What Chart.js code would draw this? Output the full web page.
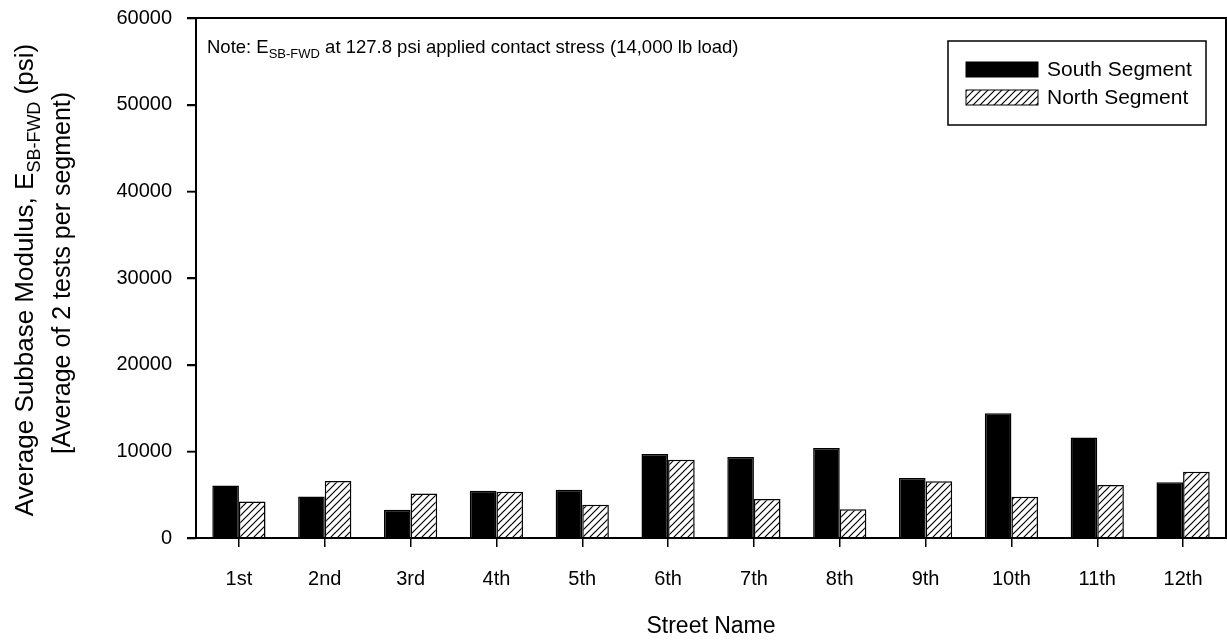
<!DOCTYPE html>
<html>
<head>
<meta charset="utf-8">
<script src="https://cdn.jsdelivr.net/npm/chart.js@4.4.1/dist/chart.umd.min.js"></script>
<style>
  html, body { margin: 0; padding: 0; background: #ffffff; }
  #wrap { width: 1227px; height: 641px; position: relative; }
</style>
</head>
<body>
<div id="wrap"><canvas id="chart" width="1227" height="641"></canvas></div>
<script>
// Street categories and segment averages (psi)
const streets = ['1st', '2nd', '3rd', '4th', '5th', '6th', '7th', '8th', '9th', '10th', '11th', '12th'];
const southSegment = [6070, 4790, 3270, 5450, 5560, 9690, 9340, 10390, 6930, 14400, 11600, 6420];
const northSegment = [4200, 6580, 5140, 5330, 3850, 9030, 4510, 3310, 6540, 4750, 6110, 7630];
const yTickValues = [0, 10000, 20000, 30000, 40000, 50000, 60000];

const FONT = '"Liberation Sans", Arial, Helvetica, sans-serif';

// Diagonal hatch fill for the north segment bars
function makeHatch() {
  const s = 7;
  const c = document.createElement('canvas');
  c.width = s; c.height = s;
  const g = c.getContext('2d');
  g.fillStyle = '#ffffff';
  g.fillRect(0, 0, s, s);
  g.strokeStyle = '#000000';
  g.lineWidth = 1.2;
  g.beginPath();
  g.moveTo(-1, s + 1); g.lineTo(s + 1, -1);
  g.moveTo(-1, 1); g.lineTo(1, -1);
  g.moveTo(s - 1, s + 1); g.lineTo(s + 1, s - 1);
  g.stroke();
  return g.createPattern(c, 'repeat');
}
const ctx = document.getElementById('chart').getContext('2d');
const hatch = makeHatch();

// Streets are placed at positions 1..12 on a numeric axis
const southPoints = southSegment.map((v, i) => ({ x: i + 1, y: v }));
const northPoints = northSegment.map((v, i) => ({ x: i + 1, y: v }));

// Text with a subscript run: [main, sub, rest]
function drawSubText(g, x, y, parts, size, subSize, align) {
  g.font = size + 'px ' + FONT;
  const w1 = g.measureText(parts[0]).width;
  const w3 = g.measureText(parts[2]).width;
  g.font = subSize + 'px ' + FONT;
  const w2 = g.measureText(parts[1]).width;
  const total = w1 + w2 + w3;
  const x0 = align === 'center' ? x - total / 2 : x;
  g.textAlign = 'left';
  g.textBaseline = 'alphabetic';
  g.font = size + 'px ' + FONT;
  g.fillText(parts[0], x0, y);
  g.font = subSize + 'px ' + FONT;
  g.fillText(parts[1], x0 + w1, y + size * 0.25);
  g.font = size + 'px ' + FONT;
  g.fillText(parts[2], x0 + w1 + w2, y);
}

const decorations = {
  id: 'decorations',
  afterDraw(chart) {
    const g = chart.ctx;
    const a = chart.chartArea;
    const yScale = chart.scales.y;
    g.save();
    g.fillStyle = '#000000';
    g.strokeStyle = '#000000';

    // plot frame
    g.lineWidth = 2;
    g.strokeRect(a.left, a.top, a.right - a.left, a.bottom - a.top);

    // outward tick marks on the value axis
    g.lineWidth = 1.5;
    g.beginPath();
    yTickValues.forEach(v => {
      const py = Math.round(yScale.getPixelForValue(v)) + 0.5;
      g.moveTo(a.left - 9, py);
      g.lineTo(a.left, py);
    });
    g.stroke();

    // y axis title, two rotated lines
    g.save();
    g.translate(33, 280);
    g.rotate(-Math.PI / 2);
    drawSubText(g, 0, 0, ['Average Subbase Modulus, E', 'SB-FWD', ' (psi)'], 26, 18, 'center');
    g.restore();
    g.save();
    g.translate(70, 273);
    g.rotate(-Math.PI / 2);
    g.font = '25px ' + FONT;
    g.textAlign = 'center';
    g.textBaseline = 'alphabetic';
    g.fillText('[Average of 2 tests per segment)', 0, 0);
    g.restore();

    // note inside the plot
    drawSubText(g, 207, 53, ['Note: E', 'SB-FWD', ' at 127.8 psi applied contact stress (14,000 lb load)'], 18.5, 13, 'left');

    // legend
    const lx = 948, ly = 41, lw = 258, lh = 84;
    g.fillStyle = '#ffffff';
    g.fillRect(lx, ly, lw, lh);
    g.lineWidth = 1.5;
    g.strokeStyle = '#000000';
    g.strokeRect(lx, ly, lw, lh);
    const rows = [
      { label: chart.data.datasets[0].label, fill: '#000000', y: 69 },
      { label: chart.data.datasets[1].label, fill: hatch, y: 97 }
    ];
    rows.forEach(r => {
      g.fillStyle = r.fill;
      g.fillRect(966, r.y - 7, 72, 15);
      g.lineWidth = 1;
      g.strokeRect(966, r.y - 7, 72, 15);
      g.fillStyle = '#000000';
      g.font = '21px ' + FONT;
      g.textAlign = 'left';
      g.textBaseline = 'middle';
      g.fillText(r.label, 1047, r.y + 1);
    });
    g.restore();
  }
};

new Chart(ctx, {
  type: 'bar',
  data: {
    datasets: [
      {
        label: 'South Segment',
        data: southPoints,
        backgroundColor: '#000000',
        borderColor: '#000000',
        borderWidth: 1.5
      },
      {
        label: 'North Segment',
        data: northPoints,
        backgroundColor: hatch,
        borderColor: '#000000',
        borderWidth: 1.5
      }
    ]
  },
  options: {
    responsive: false,
    animation: false,
    devicePixelRatio: 1,
    layout: { padding: { left: 0, right: 1, top: 18, bottom: 0 } },
    datasets: { bar: { categoryPercentage: 0.62, barPercentage: 1.0 } },
    plugins: {
      legend: { display: false },
      tooltip: { enabled: false },
      title: { display: false }
    },
    scales: {
      x: {
        type: 'linear',
        offset: false,
        min: 0.5,
        max: 12.5,
        afterBuildTicks(scale) { scale.ticks = streets.map((s, i) => ({ value: i + 1 })); },
        grid: { display: true, offset: false, drawOnChartArea: false, drawTicks: true, tickLength: 9, color: '#000000', lineWidth: 1.5 },
        border: { display: true, color: '#000000', width: 2 },
        ticks: {
          color: '#000000', font: { family: FONT, size: 20 }, padding: 20, maxRotation: 0, autoSkip: false,
          callback: v => streets[Math.round(v) - 1]
        },
        title: { display: true, text: 'Street Name', color: '#000000', font: { family: FONT, size: 23 }, padding: { top: 0, bottom: 1 } },
        afterFit(scale) {
          scale.height = 103;
          scale.paddingLeft = 0;
          scale.paddingRight = 0;
        }
      },
      y: {
        min: 0,
        max: 60000,
        afterBuildTicks(scale) { scale.ticks = yTickValues.map(v => ({ value: v })); },
        grid: { display: true, drawOnChartArea: false, drawTicks: true, tickLength: 9, color: '#000000', lineWidth: 1.5 },
        border: { display: true, color: '#000000', width: 2 },
        ticks: { color: '#000000', font: { family: FONT, size: 20 }, padding: 15, callback: v => String(v) },
        afterFit(scale) {
          scale.width = 196;
          scale.paddingTop = 0;
          scale.paddingBottom = 0;
        }
      }
    }
  },
  plugins: [decorations]
});
</script>
</body>
</html>
